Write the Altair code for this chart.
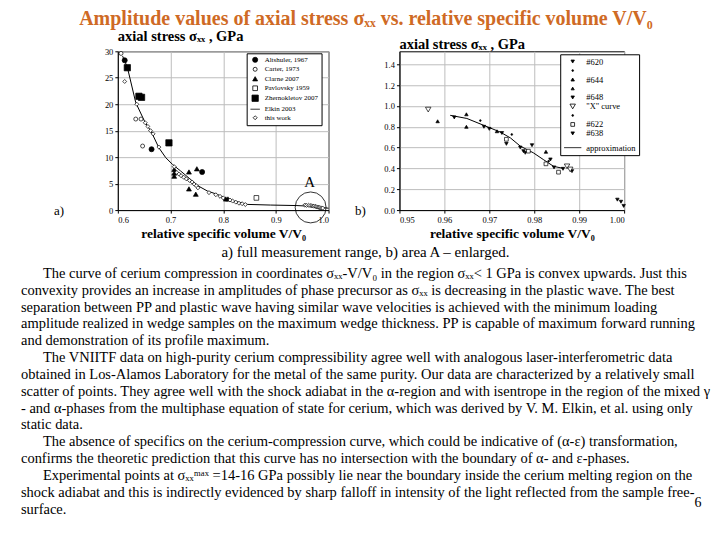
import altair as alt
import pandas as pd

SERIF = "Liberation Serif"

# ---------------- texts ----------------
MAIN_TITLE = "Amplitude values of axial stress σₓₓ vs. relative specific volume V/V₀"
Y_LABEL = "axial stress σₓₓ , GPa"
X_LABEL = "relative specific volume V/V₀"
CAPTION = "a)  full measurement range, b) area A – enlarged."
PANEL_A = "a)"
PANEL_B = "b)"
AREA_LABEL = "A"
PAGE_NO = "6"

para_lines = [
    "The curve of cerium compression in coordinates σₓₓ-V/V₀ in the region σₓₓ< 1 GPa is convex upwards. Just this",
    "convexity provides an increase in amplitudes of phase precursor as σₓₓ is decreasing in the plastic wave. The best",
    "separation between PP and plastic wave having similar wave velocities is achieved with the minimum loading",
    "amplitude realized in wedge samples on the maximum wedge thickness. PP is capable of maximum forward running",
    "and demonstration of its profile maximum.",
    "The VNIITF data on high-purity cerium compressibility agree well with analogous laser-interferometric data",
    "obtained in Los-Alamos Laboratory for the metal of the same purity. Our data are characterized by a relatively small",
    "scatter of points. They agree well with the shock adiabat in the α-region and with isentrope in the region of the mixed γ",
    "- and α-phases from the multiphase equation of state for cerium, which was derived by V. M. Elkin, et al.  using only",
    "static data.",
    "The absence of specifics on the cerium-compression curve, which could be indicative of (α-ε) transformation,",
    "confirms the theoretic prediction  that this curve has no intersection with the boundary of α- and ε-phases.",
    "Experimental points at σₓₓᵐᵃˣ =14-16 GPa possibly lie near the boundary inside the cerium melting region on the",
    "shock adiabat and this is indirectly evidenced by sharp falloff in intensity of the light reflected from the sample free-",
    "surface.",
]
para_indent = [True, False, False, False, False, True, False, False, False, False,
               True, False, True, False, False]

# ---------------- panel a) data ----------------
left_series = ["Altshuler, 1967", "Carter, 1973", "Clarne 2007", "Pavlovsky 1959",
               "Zhernokletov 2007", "Elkin 2003", "this work"]

altshuler_v = [0.613, 0.664, 0.760]
altshuler_s = [28.3, 11.5, 7.2]
carter_v = [0.606, 0.634, 0.644, 0.647]
carter_s = [29.6, 17.2, 17.2, 12.1]
clarne_v = [0.707, 0.707, 0.707, 0.735, 0.750, 0.735, 0.748, 0.805, 0.809]
clarne_s = [7.7, 7.0, 6.4, 7.2, 7.8, 4.0, 3.0, 2.1, 2.1]
pavlovsky_v = [0.863]
pavlovsky_s = [2.3]
zhernokletov_v = [0.618, 0.640, 0.645, 0.697]
zhernokletov_s = [26.9, 21.5, 21.3, 12.7]
work_v = [0.613, 0.636, 0.652, 0.657, 0.662, 0.667, 0.678, 0.707, 0.712, 0.716, 0.720,
          0.725, 0.730, 0.736, 0.741, 0.745, 0.749, 0.752, 0.773, 0.786, 0.794, 0.800,
          0.813, 0.818, 0.824, 0.830, 0.836, 0.842,
          0.955, 0.958, 0.962, 0.965, 0.968, 0.970, 0.972, 0.975, 0.977, 0.979, 0.981,
          0.983, 0.985, 0.987, 0.989]
work_s = [24.3, 20.0, 16.5, 15.8, 15.0, 14.4, 11.9, 8.2, 7.1, 6.8, 6.5,
          6.2, 5.9, 5.6, 5.3, 4.9, 4.6, 4.2, 3.3, 2.9, 2.6, 2.3,
          1.9, 1.7, 1.5, 1.3, 1.2, 1.05,
          0.95, 0.88, 0.9, 0.85, 0.8, 0.78, 0.74, 0.7, 0.62, 0.57, 0.52,
          0.47, 0.42, 0.4, 0.38]
elkin_v = [0.609, 0.618, 0.634, 0.652, 0.663, 0.678, 0.691, 0.704, 0.719, 0.738, 0.751,
           0.770, 0.789, 0.802, 0.820, 0.846, 0.890, 0.940, 0.970, 1.000]
elkin_s = [29.1, 27.0, 20.3, 16.5, 14.9, 11.75, 9.9, 8.6, 7.4, 5.8, 4.65,
           3.6, 2.96, 2.3, 1.7, 1.07, 0.95, 0.85, 0.7, 0.35]
area_circle_v = [0.966]
area_circle_s = [0.5]
area_label_v = [0.964]
area_label_s = [5.3]

# ---------------- panel b) data ----------------
right_series = ["#620", "_a", "#644", "_b", "#648", "\"X\" curve", "_c", "#622", "#638", "approximation"]
r620_v = [0.9622, 0.9688, 0.9700, 0.9728, 0.9738, 0.9776, 0.9795, 0.9844]
r620_s = [0.89, 0.80, 0.78, 0.74, 0.636, 0.566, 0.623, 0.41]
ra_v = [0.9680, 0.9750, 0.9832]
ra_s = [0.86, 0.726, 0.47]
r644_v = [0.9585, 0.9649, 0.9649, 0.9717, 0.9826]
r644_s = [0.853, 0.92, 0.80, 0.757, 0.56]
r648_v = [0.9780, 0.9836, 0.9864, 0.9884]
r648_s = [0.55, 0.486, 0.396, 0.374]
rx_v = [0.9564, 0.9873, 0.9880]
rx_s = [0.965, 0.42, 0.39]
r622_v = [0.9738, 0.9787, 0.9826, 0.9854]
r622_s = [0.68, 0.566, 0.444, 0.364]
r638_v = [0.9769, 0.9985, 0.9993, 0.9999]
r638_s = [0.60, 0.10, 0.08, 0.04]
approx_v = [0.9613, 0.9650, 0.9687, 0.9724, 0.9747, 0.9769, 0.9798, 0.9820, 0.9843, 0.9865]
approx_s = [0.91, 0.88, 0.815, 0.75, 0.693, 0.614, 0.55, 0.486, 0.42, 0.40]


def rows(names, vlists, slists):
    out = []
    for n, vl, sl in zip(names, vlists, slists):
        for v, s in zip(vl, sl):
            out.append({"series": n, "v": v, "s": s})
    return pd.DataFrame(out)


df_left = rows(
    ["Altshuler, 1967", "Carter, 1973", "Clarne 2007", "Pavlovsky 1959", "Zhernokletov 2007", "this work"],
    [altshuler_v, carter_v, clarne_v, pavlovsky_v, zhernokletov_v, work_v],
    [altshuler_s, carter_s, clarne_s, pavlovsky_s, zhernokletov_s, work_s])
df_elkin = pd.DataFrame({"v": elkin_v, "s": elkin_s})
df_right = rows(
    ["#620", "_a", "#644", "#648", "\"X\" curve", "#622", "#638"],
    [r620_v, ra_v, r644_v, r648_v, rx_v, r622_v, r638_v],
    [r620_s, ra_s, r644_s, r648_s, rx_s, r622_s, r638_s])
df_approx = pd.DataFrame({"v": approx_v, "s": approx_s})

# ---------------- styles ----------------
left_shapes = ["circle", "circle", "triangle-up", "square", "square", "stroke", "diamond"]
left_fills = ["black", "white", "black", "white", "black", "black", "white"]
left_sizes = [26, 16, 24, 22, 40, 90, 16]
right_shapes = ["triangle-down", "circle", "triangle-up", "triangle-up", "triangle-down",
                "triangle-down", "circle", "square", "triangle-down", "stroke"]
right_fills = ["black", "black", "black", "black", "black", "white", "black", "white", "black", "black"]
right_sizes = [12, 3, 12, 10, 12, 30, 3, 14, 12, 300]

axis_common = dict(labelFont=SERIF, labelFontSize=8.5, titleFont=SERIF, titleFontSize=13.5,
                   titleFontWeight="bold", grid=True)


def legend(x, y, fs, rp):
    return alt.Legend(title=None, orient="none", legendX=x, legendY=y, fillColor="white",
                      strokeColor="black", padding=3, labelFont=SERIF, labelFontSize=fs,
                      rowPadding=rp, symbolStrokeColor="black", symbolStrokeWidth=0.8,
                      labelLimit=300,
                      labelExpr="slice(datum.label, 0, 1) == '_' ? '' : datum.label")


def ttl(dx=0, dy=0):
    return alt.TitleParams(Y_LABEL, anchor="start", frame="group", font=SERIF, fontSize=14.5,
                           fontWeight="bold", offset=3, dx=dx, dy=dy)


def marker_enc(domain, shapes, fills, sizes, leg):
    return dict(
        shape=alt.Shape("series:N", scale=alt.Scale(domain=domain, range=shapes), legend=leg),
        fill=alt.Fill("series:N", scale=alt.Scale(domain=domain, range=fills), legend=leg),
        stroke=alt.Stroke("series:N", scale=alt.Scale(domain=domain, range=["black"] * len(domain)), legend=leg),
        size=alt.Size("series:N", scale=alt.Scale(type="ordinal", domain=domain, range=sizes), legend=leg),
    )


# ---------------- panel a) ----------------
xl = alt.X("v:Q", scale=alt.Scale(domain=[0.6, 1.0], nice=False, zero=False),
           axis=alt.Axis(values=[0.6, 0.7, 0.8, 0.9, 1.0], format=".1f", title=X_LABEL, **axis_common))
yl = alt.Y("s:Q", scale=alt.Scale(domain=[0, 30], nice=False),
           axis=alt.Axis(values=[0, 5, 10, 15, 20, 25, 30], title=None, **axis_common))
leg_l = legend(129, 2, 7, 0.5)

l_line = alt.Chart(df_elkin).mark_line(color="black", strokeWidth=1).encode(x=xl, y=yl)
l_pts = alt.Chart(df_left).mark_point(filled=True, strokeWidth=0.7, opacity=1).encode(
    x=xl, y=yl, **marker_enc(left_series, left_shapes, left_fills, left_sizes, leg_l))
l_circle = alt.Chart(pd.DataFrame({"v": area_circle_v, "s": area_circle_s})).mark_point(
    shape="circle", size=960, filled=False, stroke="black", strokeWidth=0.8, opacity=1).encode(x=xl, y=yl)
l_A = alt.Chart(pd.DataFrame({"v": area_label_v, "s": area_label_s, "t": [AREA_LABEL]})).mark_text(
    font=SERIF, fontSize=15, baseline="middle").encode(x=xl, y=yl, text="t:N")
l_panel = alt.Chart(pd.DataFrame({"t": [PANEL_A]})).mark_text(font=SERIF, fontSize=13).encode(
    x=alt.value(-59), y=alt.value(160), text="t:N")
left_data = alt.layer(l_line, l_pts, l_circle, l_A, l_panel)

# body text (its own line scale)
df_par = pd.DataFrame({"t": para_lines, "line": list(range(len(para_lines))), "indent": para_indent})
py = alt.Y("line:Q", scale=alt.Scale(domain=[-13.229, -3.797], reverse=True, nice=False, zero=False), axis=None)
par_plain = alt.Chart(df_par).transform_filter("!datum.indent").mark_text(
    align="left", baseline="middle", font=SERIF, fontSize=14.5, color="black").encode(
    x=alt.value(-97), y=py, text="t:N")
par_ind = alt.Chart(df_par).transform_filter("datum.indent").mark_text(
    align="left", baseline="middle", font=SERIF, fontSize=14.5, color="black").encode(
    x=alt.value(-75), y=py, text="t:N")
body = alt.layer(par_plain, par_ind)
cap = alt.Chart(pd.DataFrame({"t": [CAPTION]})).mark_text(font=SERIF, fontSize=15, baseline="middle").encode(
    x=alt.value(248), y=alt.value(201), text="t:N")
page = alt.Chart(pd.DataFrame({"t": [PAGE_NO]})).mark_text(font=SERIF, fontSize=14, baseline="middle").encode(
    x=alt.value(581), y=alt.value(452), text="t:N")

left = alt.layer(left_data, body, cap, page).resolve_scale(y="independent").properties(
    width=211, height=159, title=ttl())

# ---------------- panel b) ----------------
xr = alt.X("v:Q", scale=alt.Scale(domain=[0.95, 1.0], nice=False, zero=False),
           axis=alt.Axis(values=[0.95, 0.96, 0.97, 0.98, 0.99, 1.0], format=".2f", title=X_LABEL, **axis_common))
yr = alt.Y("s:Q", scale=alt.Scale(domain=[0, 1.525], nice=False),
           axis=alt.Axis(values=[0, 0.2, 0.4, 0.6, 0.8, 1.0, 1.2, 1.4], format=".1f", title=None, **axis_common))
leg_r = legend(161, 3, 8.5, 0)

r_line = alt.Chart(df_approx).mark_line(color="black", strokeWidth=1).encode(x=xr, y=yr)
r_pts = alt.Chart(df_right).mark_point(filled=True, strokeWidth=0.7, opacity=1).encode(
    x=xr, y=yr, **marker_enc(right_series, right_shapes, right_fills, right_sizes, leg_r))
r_panel = alt.Chart(pd.DataFrame({"t": [PANEL_B]})).mark_text(font=SERIF, fontSize=13).encode(
    x=alt.value(-39), y=alt.value(160), text="t:N")
right = alt.layer(r_line, r_pts, r_panel).properties(width=225, height=159, title=ttl(dy=4))

chart = alt.hconcat(left, right, spacing=71, bounds="flush").resolve_scale(
    shape="independent", fill="independent", size="independent", stroke="independent"
).properties(
    title=alt.TitleParams(MAIN_TITLE, font=SERIF, fontSize=20, fontWeight="bold", color="#cf6a25",
                          anchor="middle", offset=-1),
    padding={"left": 12, "top": 1, "right": 0, "bottom": 0},
    background="white",
).configure_axis(
    domainColor="black", tickColor="black", gridColor="#bdbdbd", labelColor="black",
    titleColor="black", tickSize=3, labelPadding=2, titlePadding=3,
).configure_view(stroke="black")

chart.save("out.html", embed_options={"renderer": "svg", "actions": False})
